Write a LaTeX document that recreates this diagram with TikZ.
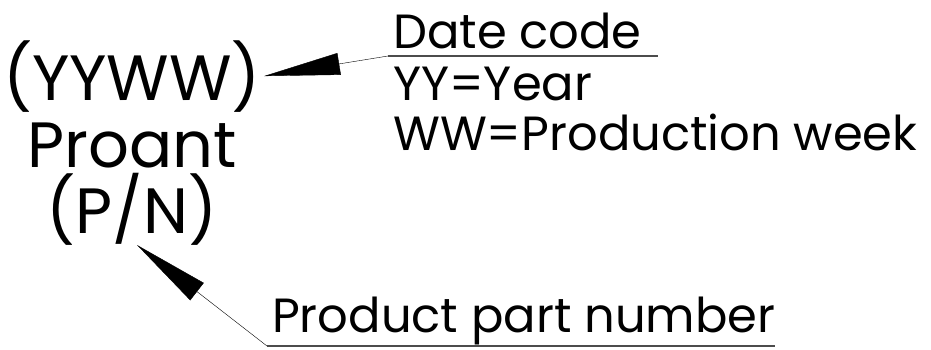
\documentclass[tikz,border=0pt]{standalone}
\usepackage{fontspec}
\setmainfont{Poppins}
\usetikzlibrary{arrows.meta, positioning}

\begin{document}
\begin{tikzpicture}[
            x=1pt, y=-1pt,
            marking/.style={inner sep=0pt, font=\fontsize{64}{64}\selectfont},
            tagtext/.style={inner sep=0pt, anchor=base west, font=\fontsize{48}{48}\selectfont},
            leader/.style={thin, -{Triangle[length=76pt, width=22pt]}},
            underline/.style={line width=1.2pt, black!70}
        ]
        \useasboundingbox (0,0) rectangle (931,349);

        % Marking on the part
        \node[marking, anchor=base] (yyww) at (132, 100) {(YYWW)};
        \node[marking, anchor=base] (proant) at (132, 167) {Proant};
        \node[marking, anchor=base] (pn) at (132, 233) {(P/N)};

        % Labels
        \node[tagtext] (datecode) at (393, 48) {Date code};
        \node[tagtext] (year) at (393, 100) {YY=Year};
        \node[tagtext] (week) at (393, 150) {WW=Production week};
        \node[tagtext] (partno) at (272, 332) {Product part number};

        % Underlines and leaders
        \coordinate (dcL) at (388, 56);
        \coordinate (dcR) at (658, 56);
        \coordinate (ppL) at (267, 346);
        \coordinate (ppR) at (775, 346);
        \coordinate (pnTip) at (137, 245);

        \draw[underline] (dcL) -- (dcR);
        \draw[underline] (ppL) -- (ppR);

        \draw[leader] (dcL) -- ([xshift=3pt]yyww.east);
        \draw[leader] (ppL) -- (pnTip);

    \end{tikzpicture}
\end{document}
